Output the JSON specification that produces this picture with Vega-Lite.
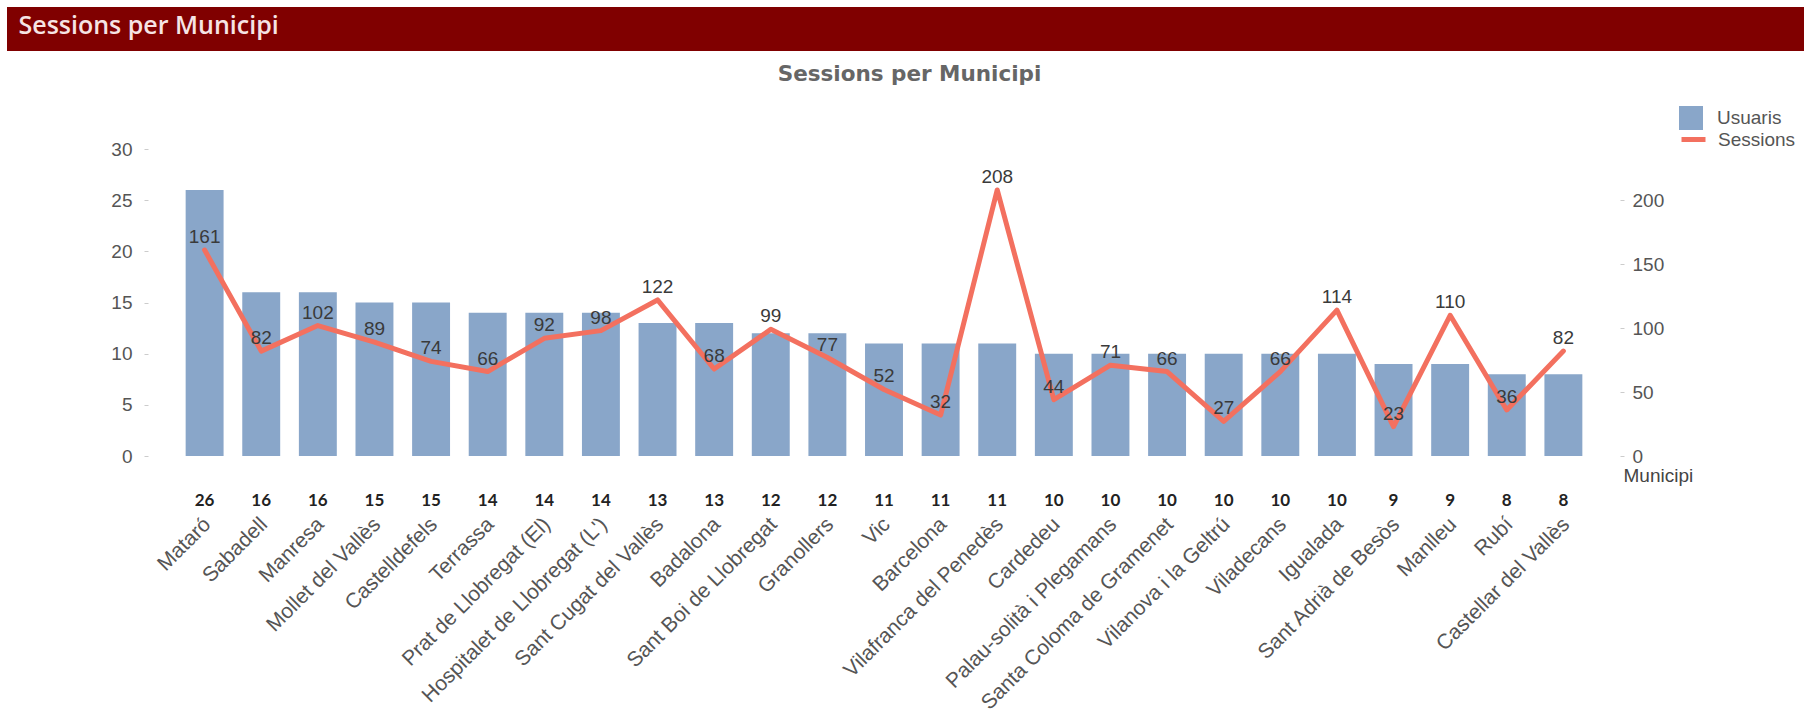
{
  "$schema": "https://vega.github.io/schema/vega-lite/v6.json",
  "background": "white",
  "padding": {"left": 7, "top": 7, "right": 0, "bottom": 0},
  "config": {"view": {"stroke": null}, "font": "Liberation Sans"},
  "spacing": 12,
  "vconcat": [
    {
      "width": 1797,
      "height": 44,
      "view": {"fill": "#800000", "stroke": null},
      "data": {"values": [{"h": "Sessions per Municipi"}]},
      "mark": {"type": "text", "opacity": 0},
      "encoding": {
        "x": {"field": "h", "type": "nominal", "axis": {"orient": "bottom", "title": "Sessions per Municipi", "titleX": 11, "titleY": -18, "titleAlign": "left", "titleBaseline": "alphabetic", "titleAngle": 0, "titleFont": "Open Sans", "titleFontSize": 25, "titleFontWeight": 600, "titleColor": "#f6e4e4", "labels": false, "ticks": false, "domain": false, "grid": false}},
        "text": {"value": ""}
      }
    },
    {
      "width": 1613,
      "height": 307,
      "data": {"values": [
        {"Municipi": "Mataró", "Usuaris": 26, "Sessions": 161},
        {"Municipi": "Sabadell", "Usuaris": 16, "Sessions": 82},
        {"Municipi": "Manresa", "Usuaris": 16, "Sessions": 102},
        {"Municipi": "Mollet del Vallès", "Usuaris": 15, "Sessions": 89},
        {"Municipi": "Castelldefels", "Usuaris": 15, "Sessions": 74},
        {"Municipi": "Terrassa", "Usuaris": 14, "Sessions": 66},
        {"Municipi": "Prat de Llobregat (El)", "Usuaris": 14, "Sessions": 92},
        {"Municipi": "Hospitalet de Llobregat (L')", "Usuaris": 14, "Sessions": 98},
        {"Municipi": "Sant Cugat del Vallès", "Usuaris": 13, "Sessions": 122},
        {"Municipi": "Badalona", "Usuaris": 13, "Sessions": 68},
        {"Municipi": "Sant Boi de Llobregat", "Usuaris": 12, "Sessions": 99},
        {"Municipi": "Granollers", "Usuaris": 12, "Sessions": 77},
        {"Municipi": "Vic", "Usuaris": 11, "Sessions": 52},
        {"Municipi": "Barcelona", "Usuaris": 11, "Sessions": 32},
        {"Municipi": "Vilafranca del Penedès", "Usuaris": 11, "Sessions": 208},
        {"Municipi": "Cardedeu", "Usuaris": 10, "Sessions": 44},
        {"Municipi": "Palau-solità i Plegamans", "Usuaris": 10, "Sessions": 71},
        {"Municipi": "Santa Coloma de Gramenet", "Usuaris": 10, "Sessions": 66},
        {"Municipi": "Vilanova i la Geltrú", "Usuaris": 10, "Sessions": 27},
        {"Municipi": "Viladecans", "Usuaris": 10, "Sessions": 66},
        {"Municipi": "Igualada", "Usuaris": 10, "Sessions": 114},
        {"Municipi": "Sant Adrià de Besòs", "Usuaris": 9, "Sessions": 23},
        {"Municipi": "Manlleu", "Usuaris": 9, "Sessions": 110},
        {"Municipi": "Rubí", "Usuaris": 8, "Sessions": 36},
        {"Municipi": "Castellar del Vallès", "Usuaris": 8, "Sessions": 82}
      ]},
      "title": {"text": "Sessions per Municipi", "frame": "group", "anchor": "middle", "dx": 96, "offset": 38, "baseline": "alphabetic", "font": "DejaVu Sans", "fontSize": 21.5, "fontWeight": "bold", "color": "#666666"},
      "encoding": {
        "x": {
          "field": "Municipi", "type": "nominal", "sort": null,
          "scale": {"range": [141, 1613], "paddingInner": 0.33, "paddingOuter": 0.665},
          "axis": {
            "title": "Municipi", "titleX": 1616, "titleY": 25, "titleAlign": "left", "titleBaseline": "alphabetic",
            "titleFont": "Liberation Sans", "titleFontSize": 19, "titleFontWeight": "normal", "titleColor": "#444444",
            "labelAngle": -45, "labelAlign": "right", "labelBaseline": "middle", "labelPadding": 65, "labelOffset": 3,
            "labelFont": "Liberation Sans", "labelFontSize": 21, "labelColor": "#555555", "labelLimit": 0, "labelOverlap": false,
            "ticks": false, "domain": false, "grid": false
          }
        }
      },
      "layer": [
        {
          "layer": [
            {
              "mark": {"type": "bar"},
              "encoding": {
                "y": {
                  "field": "Usuaris", "type": "quantitative",
                  "scale": {"domain": [0, 30], "nice": false},
                  "axis": {
                    "title": null, "offset": -141,
                    "values": [0, 5, 10, 15, 20, 25, 30], "labelFontSize": 19, "labelColor": "#555555", "labelFont": "Liberation Sans",
                    "tickSize": 4, "tickColor": "#cccccc", "domain": false, "grid": false, "labelPadding": 12
                  }
                },
                "fill": {
                  "datum": "Usuaris",
                  "scale": {"domain": ["Usuaris"], "range": ["#89a6c9"]},
                  "legend": {"orient": "none", "legendX": 1672, "legendY": 99, "title": null, "padding": 0, "symbolType": "square", "symbolSize": 576, "symbolStrokeWidth": 0, "symbolOpacity": 1, "labelFontSize": 19, "labelColor": "#555555", "labelFont": "Liberation Sans", "labelOffset": 14}
                }
              }
            },
            {
              "mark": {"type": "text", "font": "Lato", "fontWeight": "bold", "fontSize": 17, "color": "#222222", "baseline": "middle"},
              "encoding": {
                "y": {"datum": -4.4, "type": "quantitative"},
                "text": {"field": "Usuaris", "type": "quantitative"}
              }
            }
          ]
        },
        {
          "layer": [
            {
              "mark": {"type": "line", "strokeWidth": 5, "strokeJoin": "round", "strokeCap": "round"},
              "encoding": {
                "y": {
                  "field": "Sessions", "type": "quantitative",
                  "scale": {"domain": [0, 240], "nice": false},
                  "axis": {
                    "orient": "right", "title": null, "values": [0, 50, 100, 150, 200], "labelFontSize": 19, "labelColor": "#555555", "labelFont": "Liberation Sans",
                    "tickSize": 4, "tickColor": "#cccccc", "domain": false, "grid": false, "labelPadding": 8
                  }
                },
                "stroke": {
                  "datum": "Sessions",
                  "scale": {"domain": ["Sessions"], "range": ["#f3705f"]},
                  "legend": {"orient": "none", "legendX": 1672, "legendY": 118, "title": null, "padding": 0, "symbolType": "stroke", "symbolSize": 576, "symbolStrokeWidth": 5, "labelFontSize": 19, "labelColor": "#555555", "labelFont": "Liberation Sans", "labelOffset": 10}
                }
              }
            },
            {
              "mark": {"type": "text", "fontSize": 19, "font": "Liberation Sans", "color": "#3a3a3a", "baseline": "alphabetic", "dy": -7},
              "encoding": {
                "y": {"field": "Sessions", "type": "quantitative"},
                "text": {"field": "Sessions", "type": "quantitative"}
              }
            }
          ]
        }
      ],
      "resolve": {"scale": {"y": "independent"}}
    }
  ]
}
